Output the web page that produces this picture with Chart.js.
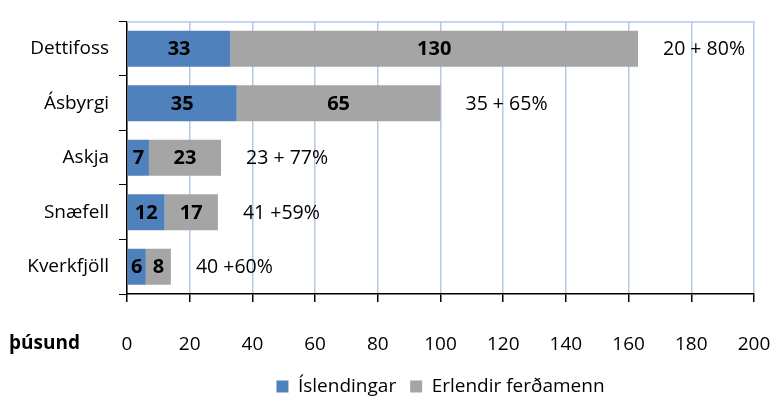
<!DOCTYPE html>
<html>
<head>
<meta charset="utf-8">
<script src="https://cdn.jsdelivr.net/npm/chart.js@4/dist/chart.umd.min.js"></script>
<style>
  html, body { margin: 0; padding: 0; background: #fff; }
  #wrap { width: 773px; height: 401px; }
</style>
</head>
<body>
<div id="wrap"><canvas id="visitors"></canvas></div>
<script>
// Visitors per site, thousands
const places = ['Dettifoss', 'Ásbyrgi', 'Askja', 'Snæfell', 'Kverkfjöll'];
const locals = [33, 35, 7, 12, 6];
const foreign = [130, 65, 23, 17, 8];
const shareNotes = ['20 + 80%', '35 + 65%', '23 + 77%', '41 +59%', '40 +60%'];
const seriesNames = ['Íslendingar', 'Erlendir ferðamenn'];
const unitLabel = 'þúsund';

const FONT = "'Open Sans', 'Noto Sans', sans-serif";
const BLUE = '#4f81bd';
const GREY = '#a5a5a5';
const GRID = '#b4c8ea';

// bold numbers inside segments, share notes after each bar, unit label, top border
const barText = {
  id: 'barText',
  afterDatasetsDraw(chart) {
    const ctx = chart.ctx;
    const area = chart.chartArea;
    ctx.save();
    ctx.strokeStyle = GRID;
    ctx.lineWidth = 1.5;
    ctx.beginPath();
    ctx.moveTo(area.left, area.top + 0.5);
    ctx.lineTo(area.right + 0.5, area.top + 0.5);
    ctx.stroke();

    ctx.fillStyle = '#000';
    ctx.textBaseline = 'middle';
    chart.data.datasets.forEach((ds, di) => {
      chart.getDatasetMeta(di).data.forEach((bar, i) => {
        ctx.font = 'bold 20px ' + FONT;
        ctx.textAlign = 'center';
        ctx.fillText(String(ds.data[i]), (bar.x + bar.base) / 2, bar.y + 1);
        if (di === chart.data.datasets.length - 1) {
          ctx.font = '19.5px ' + FONT;
          ctx.textAlign = 'left';
          ctx.fillText(shareNotes[i], bar.x + 25, bar.y + 1);
        }
      });
    });

    const xs = chart.scales.x;
    ctx.font = 'bold 19px ' + FONT;
    ctx.textAlign = 'left';
    ctx.fillText(unitLabel, 9, xs.top + 50);
    ctx.restore();
  }
};

new Chart(document.getElementById('visitors'), {
  type: 'bar',
  data: {
    labels: places,
    datasets: [
      { label: seriesNames[0], data: locals, backgroundColor: BLUE, barPercentage: 0.66, categoryPercentage: 1 },
      { label: seriesNames[1], data: foreign, backgroundColor: GREY, barPercentage: 0.66, categoryPercentage: 1 }
    ]
  },
  options: {
    indexAxis: 'y',
    responsive: true,
    maintainAspectRatio: false,
    animation: false,
    layout: { padding: { top: 11, right: 0, left: 0, bottom: -5 } },
    plugins: {
      legend: {
        position: 'bottom',
        fullSize: false,
        labels: {
          color: '#000',
          font: { family: FONT, size: 19 },
          boxWidth: 12,
          boxHeight: 12,
          padding: 14
        }
      },
      tooltip: { enabled: false }
    },
    scales: {
      x: {
        stacked: true,
        min: 0,
        max: 200,
        afterFit: (s) => { s.height = 69; s.paddingRight = 19; s.paddingLeft = 0; },
        ticks: {
          stepSize: 20,
          color: '#000',
          padding: 31,
          font: { family: FONT, size: 19 }
        },
        grid: { color: GRID, lineWidth: 1.5, tickColor: '#000', tickLength: 8 },
        border: { color: '#000', width: 1.5 }
      },
      y: {
        stacked: true,
        afterFit: (s) => { s.width = 127; },
        ticks: {
          color: '#000',
          padding: 10,
          font: { family: FONT, size: 19 }
        },
        grid: { offset: true, drawOnChartArea: false, tickColor: '#000', tickLength: 8 },
        border: { color: '#000', width: 1.5 }
      }
    }
  },
  plugins: [barText]
});
</script>
</body>
</html>
